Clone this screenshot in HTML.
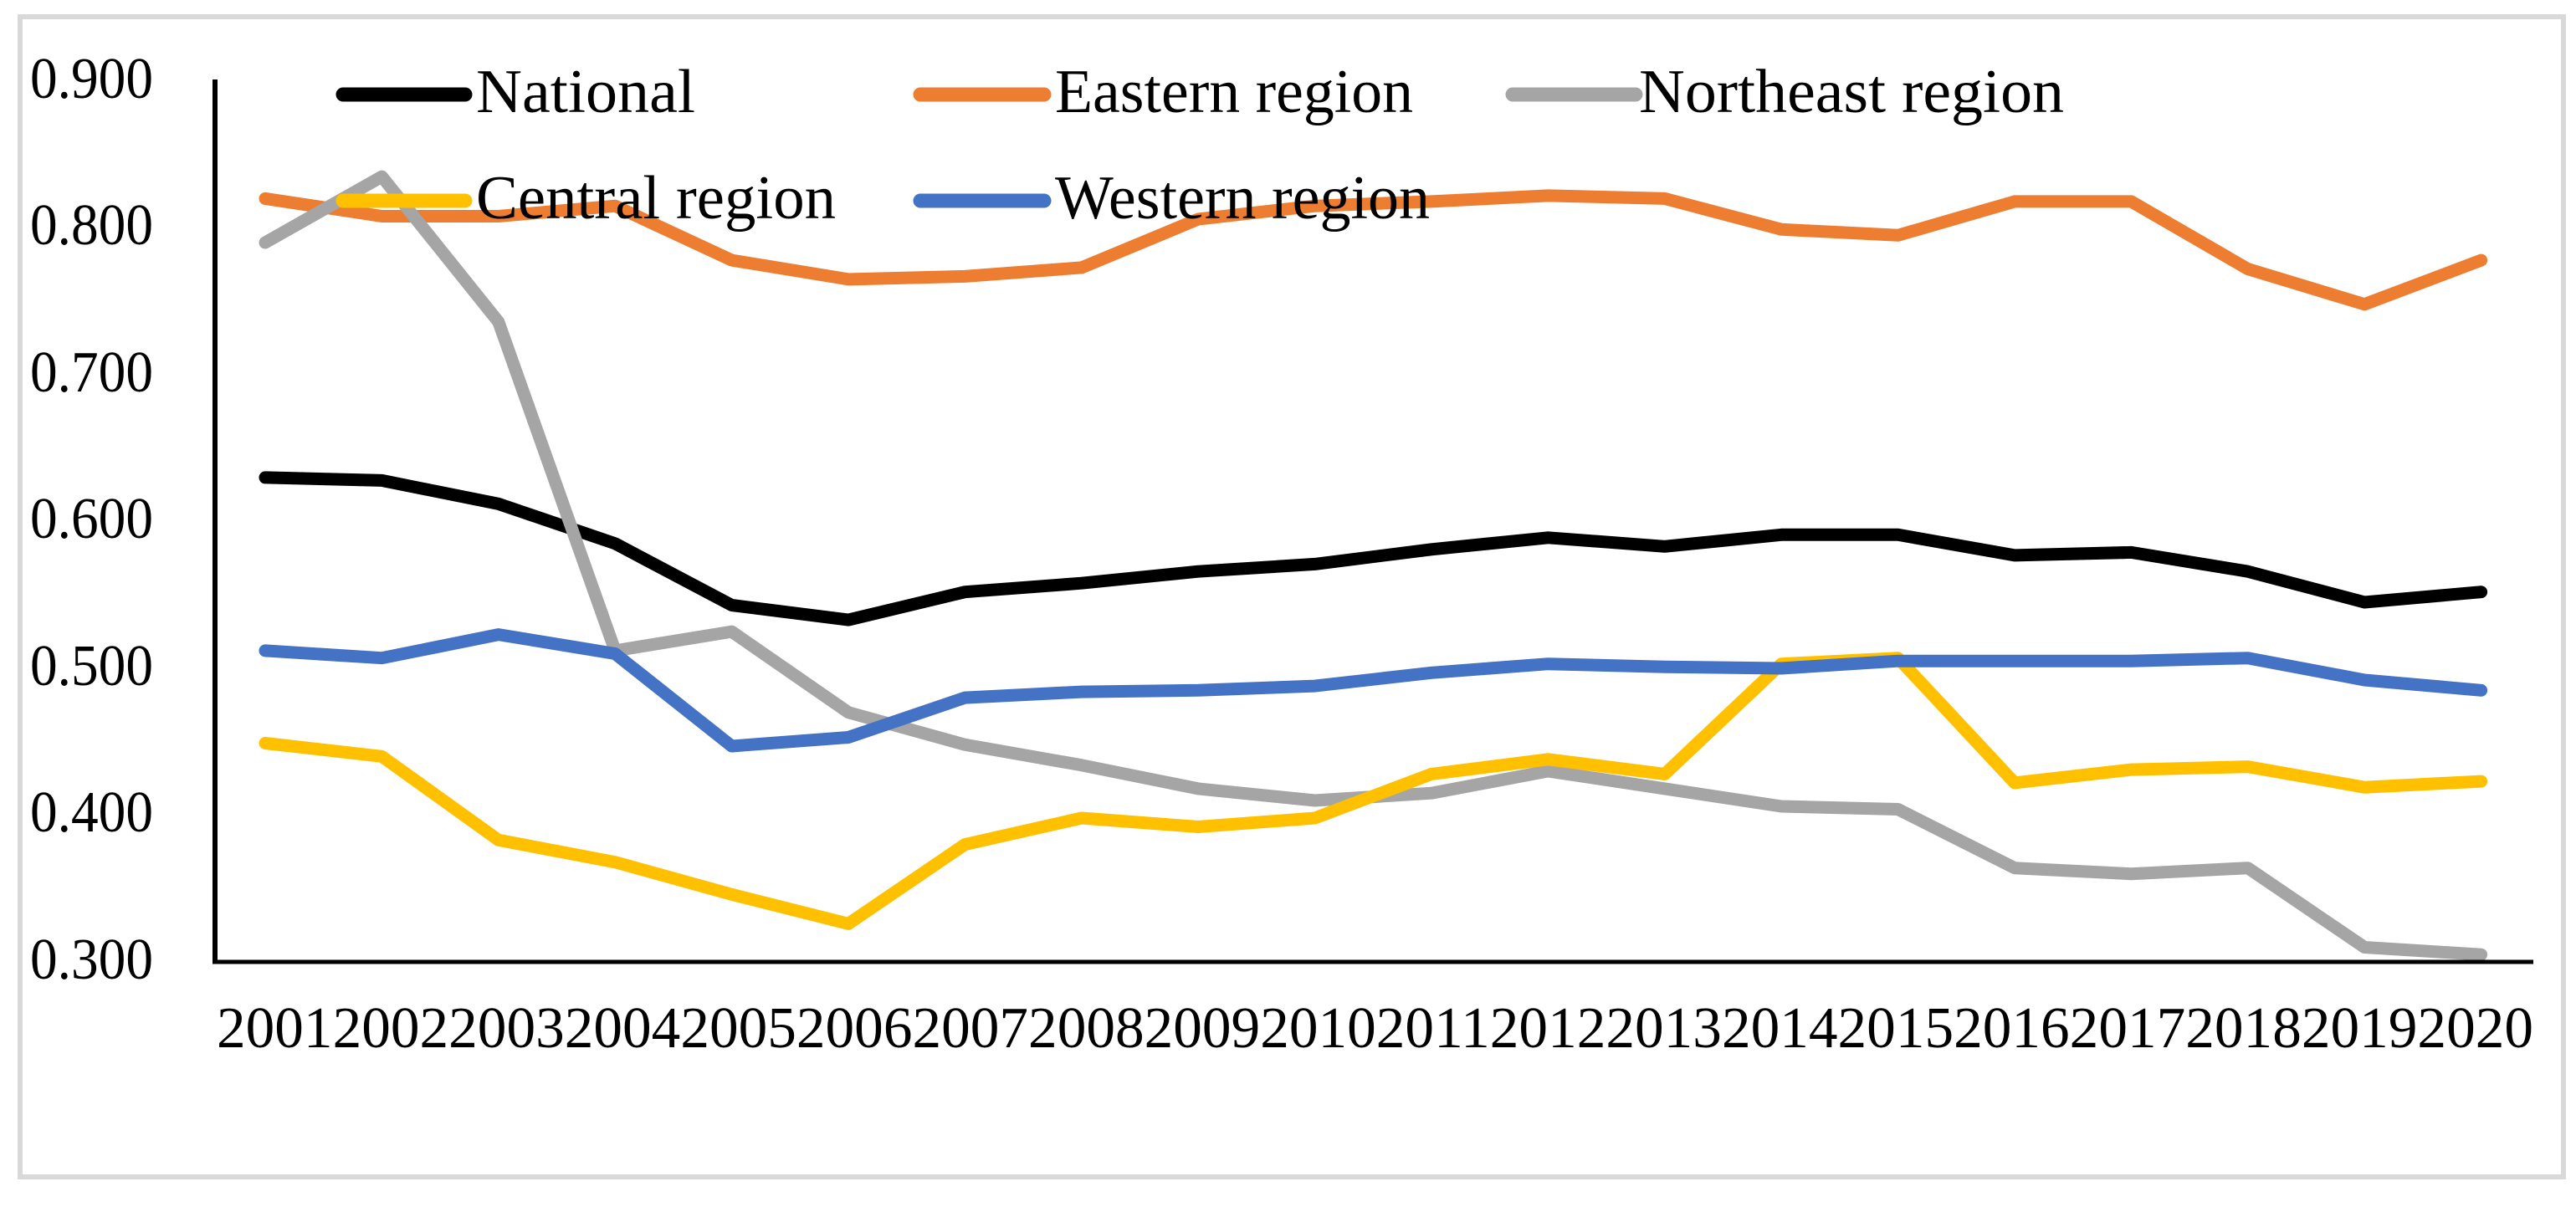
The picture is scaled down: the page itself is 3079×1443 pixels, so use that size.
<!DOCTYPE html>
<html><head><meta charset="utf-8"><style>html,body{margin:0;padding:0;background:#fff}svg{display:block}</style></head>
<body>
<svg id="s" width="3079" height="1443" viewBox="0 0 3079 1443" xmlns="http://www.w3.org/2000/svg" font-family="Liberation Serif, serif">
<rect x="0" y="0" width="3079" height="1443" fill="#fff"/>
<rect x="24" y="20" width="3040" height="1387" fill="none" stroke="#d9d9d9" stroke-width="6"/>
<g font-size="70" fill="#000">
<text x="183" y="117" text-anchor="end" textLength="147" lengthAdjust="spacingAndGlyphs">0.900</text>
<text x="183" y="292" text-anchor="end" textLength="147" lengthAdjust="spacingAndGlyphs">0.800</text>
<text x="183" y="468" text-anchor="end" textLength="147" lengthAdjust="spacingAndGlyphs">0.700</text>
<text x="183" y="643" text-anchor="end" textLength="147" lengthAdjust="spacingAndGlyphs">0.600</text>
<text x="183" y="819" text-anchor="end" textLength="147" lengthAdjust="spacingAndGlyphs">0.500</text>
<text x="183" y="994" text-anchor="end" textLength="147" lengthAdjust="spacingAndGlyphs">0.400</text>
<text x="183" y="1170" text-anchor="end" textLength="147" lengthAdjust="spacingAndGlyphs">0.300</text>
<text x="259" y="1252" textLength="2769" lengthAdjust="spacingAndGlyphs">20012002200320042005200620072008200920102011201220132014201520162017201820192020</text>
</g>
<g id="series" fill="none" stroke-width="15" stroke-linejoin="round" stroke-linecap="round"></g>
<line x1="257" y1="95" x2="257" y2="1152" stroke="#000" stroke-width="6"/>
<line x1="254" y1="1150" x2="3028" y2="1150" stroke="#000" stroke-width="5"/>
<g stroke-width="17" stroke-linecap="round">
<line x1="410" y1="113" x2="556" y2="113" stroke="#000"/>
<line x1="1100" y1="113" x2="1248" y2="113" stroke="#ED7D31"/>
<line x1="1808" y1="113" x2="1955" y2="113" stroke="#A5A5A5"/>
<line x1="410" y1="240" x2="556" y2="240" stroke="#FFC000"/>
<line x1="1100" y1="240" x2="1248" y2="240" stroke="#4472C4"/>
</g>
<g font-size="74" fill="#000">
<text x="569" y="134" textLength="262" lengthAdjust="spacingAndGlyphs">National</text>
<text x="1261" y="134" textLength="428" lengthAdjust="spacingAndGlyphs">Eastern region</text>
<text x="1959" y="134" textLength="508" lengthAdjust="spacingAndGlyphs">Northeast region</text>
<text x="569" y="261" textLength="430" lengthAdjust="spacingAndGlyphs">Central region</text>
<text x="1261" y="261" textLength="448" lengthAdjust="spacingAndGlyphs">Western region</text>
</g>
</svg>
<script>
var D=[
["#000",[0.630,0.628,0.612,0.585,0.543,0.533,0.552,0.558,0.566,0.571,0.581,0.589,0.583,0.591,0.591,0.577,0.579,0.566,0.545,0.552]],
["#ED7D31",[0.820,0.808,0.808,0.815,0.778,0.765,0.767,0.773,0.806,0.815,0.818,0.822,0.820,0.799,0.795,0.818,0.818,0.772,0.748,0.778]],
["#A5A5A5",[0.790,0.835,0.736,0.512,0.525,0.470,0.448,0.434,0.418,0.410,0.415,0.430,0.418,0.406,0.404,0.364,0.360,0.364,0.310,0.305]],
["#FFC000",[0.449,0.440,0.383,0.368,0.346,0.326,0.380,0.398,0.392,0.398,0.428,0.438,0.428,0.503,0.507,0.422,0.431,0.433,0.419,0.423]],
["#4472C4",[0.512,0.507,0.523,0.510,0.447,0.453,0.480,0.484,0.485,0.488,0.497,0.503,0.501,0.500,0.505,0.505,0.505,0.507,0.492,0.485]]];
var g=document.getElementById("series"),h="";
D.forEach(function(s){var p=s[1].map(function(v,i){return (317+139.4*i).toFixed(1)+","+(1150-(v-0.3)*1755).toFixed(1)}).join(" ");
h+='<polyline stroke="'+s[0]+'" points="'+p+'"/>';});
g.innerHTML=h;
</script>
</body></html>
